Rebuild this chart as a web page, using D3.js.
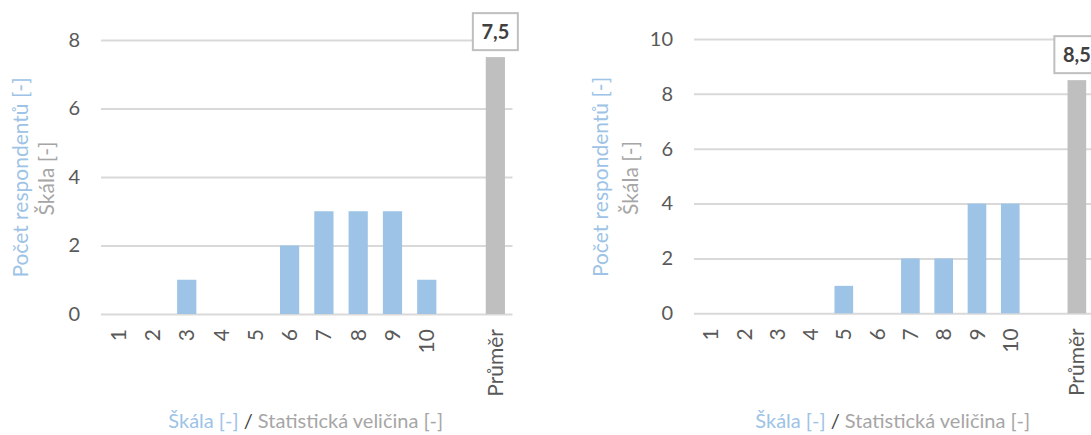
<!DOCTYPE html>
<html><head><meta charset="utf-8">
<script src="https://cdn.jsdelivr.net/npm/d3@7"></script>
<style>
html,body{margin:0;padding:0;background:#fff;}
svg{display:block;font-family:Lato,"Open Sans",sans-serif;}
</style></head><body>
<svg id="chart" width="1091" height="435"></svg>
<script>
// ---- data ----
const categories = ["1","2","3","4","5","6","7","8","9","10"];
const gapKey = "__gap";
const avgLabel = "Průměr";
const countsA = [0,0,1,0,0,2,3,3,3,1];
const meanA = 7.5;
const yTicksA = [0,2,4,6,8];
const countsB = [0,0,0,0,1,0,2,2,4,4];
const meanB = 8.5;
const yTicksB = [0,2,4,6,8,10];
const yTitleMain = "Počet respondentů [-]";
const yTitleSub = "Škála [-]";
const xTitleParts = ["Škála [-]", " / ", "Statistická veličina [-]"];

// ---- styles ----
const C = {blue:"#9dc3e6", gray:"#bfbfbf", grid:"#d9d9d9", tick:"#595959",
           sub:"#a6a6a6", dark:"#404040"};
const fmt = d3.formatLocale({decimal:",", thousands:" ", grouping:[3], currency:["",""]}).format(".1f");

const svg = d3.select("#chart");

function panel(cfg){
  const g = svg.append("g");
  const keys = [...categories, gapKey, avgLabel];
  const x = d3.scaleBand().domain(keys).range([cfg.x0, cfg.x1]).paddingInner(0.44).paddingOuter(0.22);
  const y = d3.scaleLinear().domain([0, cfg.yMax]).range([cfg.yBottom, cfg.yTop]);

  // y axis with gridlines
  const ya = g.append("g").attr("transform", `translate(${cfg.x0},0)`)
    .call(d3.axisLeft(y).tickValues(cfg.yTicks).tickSize(-(cfg.x1 - cfg.x0)).tickPadding(cfg.tickPad));
  ya.select(".domain").remove();
  ya.selectAll(".tick line").attr("stroke", C.grid).attr("stroke-width", 2);
  ya.selectAll(".tick text").attr("fill", C.tick).style("font-size", "20px").style("font-family", "Lato");

  // bars
  const rows = categories.map((c,i) => ({k:c, v:cfg.counts[i]}));
  g.selectAll("rect.cnt").data(rows.filter(d => d.v > 0)).join("rect")
    .attr("class","cnt")
    .attr("x", d => x(d.k)).attr("width", x.bandwidth())
    .attr("y", d => y(d.v)).attr("height", d => y(0) - y(d.v))
    .attr("fill", C.blue);
  g.append("rect")
    .attr("x", x(avgLabel)).attr("width", x.bandwidth())
    .attr("y", y(cfg.mean)).attr("height", y(0) - y(cfg.mean))
    .attr("fill", C.gray);

  // mean label box
  const bw = 45, bh = 37;
  const cx = x(avgLabel) + x.bandwidth()/2;
  const by = y(cfg.mean) - 7 - bh;
  g.append("rect").attr("x", cx - bw/2).attr("y", by).attr("width", bw).attr("height", bh)
    .attr("fill", "#fff").attr("stroke", C.gray).attr("stroke-width", 2);
  g.append("text").attr("x", cx).attr("y", by + bh/2).attr("dy", "0.36em")
    .attr("text-anchor", "middle").attr("fill", C.dark)
    .style("font-size", "20px").style("font-weight", "bold").text(fmt(cfg.mean));

  // x axis labels
  const xa = g.append("g").attr("transform", `translate(0,${cfg.yBottom})`)
    .call(d3.axisBottom(x).tickSize(0).tickFormat(d => d === gapKey ? "" : d));
  xa.select(".domain").remove();
  xa.selectAll(".tick text")
    .attr("transform", "rotate(-90)")
    .attr("x", -cfg.labelOff).attr("y", 0).attr("dy", "0.36em")
    .attr("text-anchor", "end").attr("fill", C.tick)
    .style("font-size", "21px").style("font-family", "Lato");

  // y titles
  g.append("text").attr("transform", `translate(${cfg.t1x},${cfg.ty}) rotate(-90)`)
    .attr("dy", "0.36em").attr("text-anchor", "middle").attr("fill", C.blue)
    .style("font-size", "21px").text(yTitleMain);
  g.append("text").attr("transform", `translate(${cfg.t2x},${cfg.ty + 1}) rotate(-90)`)
    .attr("dy", "0.36em").attr("text-anchor", "middle").attr("fill", C.sub)
    .style("font-size", "21px").text(yTitleSub);

  // x title
  const xt = g.append("text").attr("x", (cfg.x0 + cfg.x1)/2 - 1).attr("y", 428)
    .attr("text-anchor", "middle").style("font-size", "20px");
  const cols = [C.blue, C.dark, C.sub];
  xTitleParts.forEach((p,i) => xt.append("tspan").attr("fill", cols[i]).text(p));
}

panel({x0:101, x1:512.5, yTop:40, yBottom:314, yMax:8, yTicks:yTicksA, tickPad:21,
       counts:countsA, mean:meanA, labelOff:15, t1x:20, t2x:46.7, ty:177.5});
panel({x0:694, x1:1093.5, yTop:39, yBottom:313.3, yMax:10, yTicks:yTicksB, tickPad:21,
       counts:countsB, mean:meanB, labelOff:15, t1x:600.7, t2x:630, ty:177});
</script>
</body></html>
